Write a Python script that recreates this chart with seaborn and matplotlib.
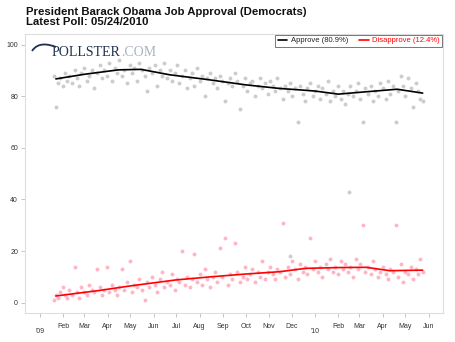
import pandas as pd
import numpy as np
import matplotlib
matplotlib.use("Agg")
import matplotlib.pyplot as plt
import matplotlib.dates as mdates
from matplotlib.path import Path
from matplotlib.patches import PathPatch
import seaborn as sns

# ---- data (days after 2009-01-20) ----
approve_days = [0, 2, 5, 8, 11, 14, 17, 20, 24, 27, 30, 33, 36, 40, 43, 46, 50, 53, 56, 60,
                63, 66, 70, 73, 76, 80, 83, 86, 90, 93, 96, 100, 103, 106, 110, 113, 116, 120, 123, 126,
                130, 133, 136, 140, 143, 146, 150, 153, 156, 160, 163, 166, 170, 173, 176, 180, 183, 186, 190, 193,
                196, 200, 203, 206, 210, 213, 216, 220, 223, 226, 230, 233, 236, 240, 243, 246, 250, 253, 256, 260,
                263, 266, 270, 273, 276, 280, 283, 286, 290, 293, 296, 300, 303, 306, 310, 313, 316, 320, 323, 326,
                330, 333, 336, 340, 343, 346, 350, 353, 356, 360, 363, 366, 370, 373, 376, 380, 383, 386, 390, 393,
                396, 400, 403, 406, 410, 413, 416, 420, 423, 426, 430, 433, 436, 440, 443, 446, 450, 453, 456, 460,
                463, 466, 470, 473, 476, 480, 483, 486, 489, 391, 313]
approve_vals = [88, 76, 85, 87, 84, 89, 86, 88, 85, 90, 87, 84, 89, 91, 86, 88, 90, 83, 89, 92,
                87, 90, 88, 93, 86, 91, 89, 94, 88, 90, 85, 92, 89, 91, 86, 93, 90, 88, 82, 91,
                89, 92, 84, 90, 88, 93, 87, 90, 86, 89, 92, 85, 88, 90, 83, 87, 89, 84, 91, 86,
                88, 80, 87, 89, 85, 87, 83, 88, 86, 78, 85, 87, 84, 89, 86, 75, 84, 87, 82, 85,
                86, 80, 84, 87, 83, 85, 81, 86, 84, 82, 87, 83, 79, 84, 82, 85, 80, 83, 70, 84,
                81, 78, 83, 85, 80, 82, 84, 79, 83, 81, 86, 78, 82, 80, 84, 79, 82, 77, 81, 84,
                80, 82, 85, 79, 70, 83, 81, 84, 78, 82, 80, 85, 83, 79, 86, 81, 84, 70, 82, 88,
                84, 80, 87, 83, 76, 85, 82, 79, 78, 43, 18]

disapprove_days = [0, 2, 5, 8, 11, 14, 17, 20, 24, 27, 30, 33, 36, 40, 43, 46, 50, 53, 56, 60,
                   63, 66, 70, 73, 76, 80, 83, 86, 90, 93, 96, 100, 103, 106, 110, 113, 116, 120, 123, 126,
                   130, 133, 136, 140, 143, 146, 150, 153, 156, 160, 163, 166, 170, 173, 176, 180, 183, 186, 190, 193,
                   196, 200, 203, 206, 210, 213, 216, 220, 223, 226, 230, 233, 236, 240, 243, 246, 250, 253, 256, 260,
                   263, 266, 270, 273, 276, 280, 283, 286, 290, 293, 296, 300, 303, 306, 310, 313, 316, 320, 323, 326,
                   330, 333, 336, 340, 343, 346, 350, 353, 356, 360, 363, 366, 370, 373, 376, 380, 383, 386, 390, 393,
                   396, 400, 403, 406, 410, 413, 416, 420, 423, 426, 430, 433, 436, 440, 443, 446, 450, 453, 456, 460,
                   463, 466, 470, 473, 476, 480, 483, 486, 489]
disapprove_vals = [1, 3, 2, 4, 6, 3, 2, 5, 3, 14, 4, 2, 6, 4, 3, 7, 5, 4, 13, 6,
                   3, 5, 14, 4, 7, 5, 3, 6, 13, 5, 8, 16, 4, 7, 6, 9, 5, 1, 8, 6,
                   10, 7, 4, 9, 12, 6, 8, 7, 11, 5, 9, 8, 20, 7, 10, 6, 9, 19, 8, 11,
                   7, 13, 9, 6, 10, 12, 8, 21, 10, 25, 7, 11, 9, 23, 12, 8, 10, 14, 9, 11,
                   13, 8, 12, 10, 16, 9, 12, 14, 11, 9, 13, 12, 31, 10, 14, 11, 16, 13, 9, 15,
                   12, 14, 11, 25, 13, 16, 12, 14, 10, 15, 13, 17, 12, 14, 11, 16, 13, 15, 12, 14,
                   10, 17, 13, 15, 30, 12, 14, 11, 16, 13, 10, 12, 14, 11, 9, 13, 12, 30, 10, 15,
                   8, 12, 11, 14, 9, 13, 11, 17, 12]

trend_dates = ["2009-01-22", "2009-03-01", "2009-04-15", "2009-05-15", "2009-06-22", "2009-08-10",
               "2009-10-01", "2009-11-15", "2009-12-14", "2010-01-01", "2010-02-01", "2010-03-01",
               "2010-04-20", "2010-05-24"]
approve_trend = [86.7, 88.5, 90.2, 90.4, 88.3, 86.5, 84.4, 83.0, 82.4, 82.0, 80.8, 81.5, 82.7, 81.2]
disapprove_trend_dates = ["2009-01-22", "2009-03-20", "2009-05-01", "2009-06-30", "2009-08-15",
                          "2009-10-01", "2009-11-15", "2009-12-20", "2010-02-01", "2010-03-10",
                          "2010-04-10", "2010-05-24"]
disapprove_trend = [2.6, 4.7, 6.5, 8.8, 10.0, 11.1, 12.0, 13.3, 13.6, 13.7, 12.4, 12.6]

title = "President Barack Obama Job Approval (Democrats)"
subtitle = "Latest Poll: 05/24/2010"
legend_labels = ["Approve (80.9%)", "Disapprove (12.4%)"]

base = pd.Timestamp("2009-01-20")
df_a = pd.DataFrame({"date": base + pd.to_timedelta(approve_days, unit="D"), "value": approve_vals})
df_d = pd.DataFrame({"date": base + pd.to_timedelta(disapprove_days, unit="D"), "value": disapprove_vals})
df_ta = pd.DataFrame({"date": pd.to_datetime(trend_dates), "value": approve_trend})
df_td = pd.DataFrame({"date": pd.to_datetime(disapprove_trend_dates), "value": disapprove_trend})

sns.set_theme(style="white")
plt.rcParams['font.family'] = ['Liberation Sans', 'DejaVu Sans']

W, H = 456, 342
fig = plt.figure(figsize=(W/100, H/100), dpi=100)
ax = fig.add_axes([25/W, 1-313/H, (443-25)/W, (313-34)/H])

sns.scatterplot(data=df_a, x="date", y="value", ax=ax, color="#cccccc", s=8, linewidth=0, zorder=2)
sns.scatterplot(data=df_d, x="date", y="value", ax=ax, color="#ffb6c4", s=8, linewidth=0, zorder=2)
sns.lineplot(data=df_ta, x="date", y="value", ax=ax, color="black", linewidth=1.2, zorder=3,
             label=legend_labels[0])
sns.lineplot(data=df_td, x="date", y="value", ax=ax, color="#ff0000", linewidth=1.2, zorder=3,
             label=legend_labels[1])

ax.set_xlim(pd.Timestamp("2008-12-12"), pd.Timestamp("2010-06-20"))
ax.set_ylim(-4, 104.1)
ax.set_xlabel("")
ax.set_ylabel("")
ax.set_yticks([0, 20, 40, 60, 80, 100])

months = pd.date_range("2009-01-01", "2010-06-01", freq="MS")
ax.set_xticks(months)
labs = []
for m in months:
    if m.month == 1:
        labs.append("\n'" + m.strftime("%y"))
    else:
        labs.append(m.strftime("%b"))
ax.set_xticklabels(labs, linespacing=0.75)

for sp in ax.spines.values():
    sp.set_color("#dddddd")
    sp.set_linewidth(0.8)
ax.tick_params(axis="both", which="both", length=3, width=0.6, color="#bbbbbb",
               labelsize=5, labelcolor="#333333", pad=2, bottom=True, left=True)
ax.tick_params(axis="x", pad=4)

leg = ax.legend(loc="upper right", ncol=2, fontsize=5.5, frameon=True, fancybox=False,
                borderaxespad=0.1, handlelength=1.2, columnspacing=1.5, handletextpad=0.5,
                borderpad=0.3)
leg.get_frame().set_edgecolor("#555555")
leg.get_frame().set_linewidth(0.7)
for t, c in zip(leg.get_texts(), ["#222222", "#ff0000"]):
    t.set_color(c)

# pollster logo
t1 = fig.text(52/W, 1 - 52/H, "POLLSTER", family="Liberation Serif",
              fontsize=10, color="#1f2f4f", va="center", ha="left")
fig.canvas.draw()
bb = t1.get_window_extent(renderer=fig.canvas.get_renderer())
fig.text(bb.x1 / W, 1 - 52/H, ".COM", family="Liberation Serif",
         fontsize=10, color="#aab2c0", va="center", ha="left")
verts = [(32, 51), (38, 42), (48, 44), (56, 47)]
verts = [(x / W, 1 - y / H) for x, y in verts]
swoosh = PathPatch(Path(verts, [Path.MOVETO, Path.CURVE4, Path.CURVE4, Path.CURVE4]),
                   transform=fig.transFigure, fill=False, edgecolor="#1f2f4f", linewidth=1.3)
fig.patches.append(swoosh)

fig.text(26/W, 1 - 15/H, title, fontsize=8.2, fontweight="bold", color="#111111", va="baseline")
fig.text(26/W, 1 - 25/H, subtitle, fontsize=8.2, fontweight="bold", color="#111111", va="baseline")

fig.savefig("out.png", dpi=100, facecolor="white")
